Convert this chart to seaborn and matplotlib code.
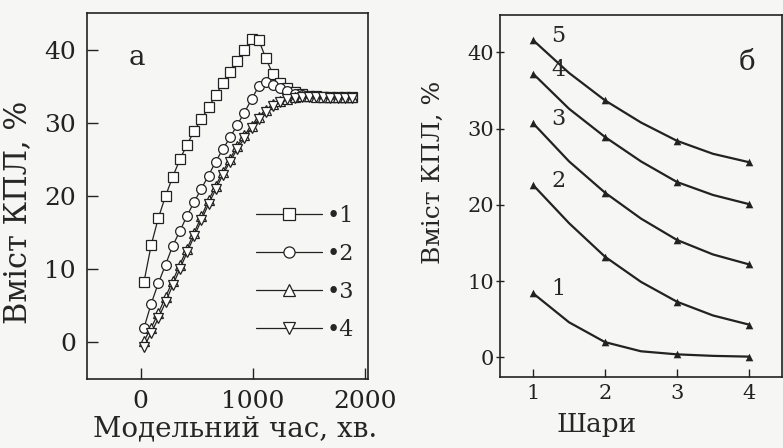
import pandas as pd
import seaborn as sns
import matplotlib.pyplot as plt
from matplotlib.lines import Line2D

# panel a: model time (min) and KPL content (%) for the four series
time_min = [30, 94, 158, 222, 286, 350, 414, 478, 542, 606,
            670, 734, 798, 862, 926, 990, 1054, 1118, 1182, 1246,
            1310, 1374, 1438, 1502, 1566, 1630, 1694, 1758, 1822, 1886]
series_1 = [8.3, 13.3, 17.0, 20.0, 22.6, 25.0, 27.0, 28.9, 30.5, 32.1,
            33.8, 35.4, 36.9, 38.4, 40.0, 41.4, 41.3, 38.8, 36.6, 35.4,
            34.7, 34.2, 33.9, 33.7, 33.6, 33.5, 33.5, 33.5, 33.5, 33.5]
series_2 = [2.0, 5.3, 8.1, 10.6, 13.2, 15.2, 17.3, 19.2, 21.0, 22.8,
            24.7, 26.4, 28.0, 29.7, 31.4, 33.2, 35.0, 35.6, 35.2, 34.7,
            34.3, 34.0, 33.8, 33.7, 33.6, 33.5, 33.5, 33.5, 33.5, 33.5]
series_3 = [0.2, 2.0, 4.0, 6.2, 8.4, 10.6, 12.8, 15.0, 17.2, 19.4,
            21.4, 23.3, 25.1, 26.8, 28.3, 29.6, 30.8, 31.8, 32.5, 33.0,
            33.3, 33.5, 33.6, 33.6, 33.5, 33.5, 33.5, 33.5, 33.5, 33.5]
series_4 = [-0.6, 1.3, 3.3, 5.5, 7.8, 10.0, 12.3, 14.5, 16.7, 18.9,
            20.9, 22.9, 24.7, 26.4, 27.9, 29.3, 30.5, 31.5, 32.3, 32.8,
            33.2, 33.4, 33.5, 33.5, 33.5, 33.5, 33.4, 33.4, 33.4, 33.4]
series_names = ['1', '2', '3', '4']
series_markers = ['s', 'o', '^', 'v']

# panel b: layers and KPL content (%) for curves 1..5
layers = [1, 1.5, 2, 2.5, 3, 3.5, 4]
curve_1 = [8.4, 4.6, 2.0, 0.8, 0.4, 0.2, 0.1]
curve_2 = [22.6, 17.6, 13.2, 9.9, 7.3, 5.5, 4.3]
curve_3 = [30.7, 25.7, 21.6, 18.2, 15.4, 13.5, 12.2]
curve_4 = [37.2, 32.6, 28.9, 25.7, 23.0, 21.3, 20.1]
curve_5 = [41.6, 37.3, 33.7, 30.8, 28.4, 26.7, 25.6]
curve_names = ['1', '2', '3', '4', '5']

df_a = pd.DataFrame({
    't': time_min * 4,
    'v': series_1 + series_2 + series_3 + series_4,
    'series': [n for n in series_names for _ in time_min],
})
curves = [curve_1, curve_2, curve_3, curve_4, curve_5]
df_b = pd.DataFrame({
    'layer': layers * 5,
    'v': [v for c in curves for v in c],
    'curve': [n for n in curve_names for _ in layers],
})
df_b_pts = df_b[df_b['layer'] % 1 == 0]

sns.set_style("ticks")
plt.rcParams['font.family'] = ['DejaVu Serif']

bg = '#f6f6f4'
ink = '#222222'
fig = plt.figure(figsize=(7.83, 4.48), dpi=100, facecolor=bg)
ax_a = fig.add_axes([0.111, 0.154, 0.359, 0.817], facecolor=bg)
ax_b = fig.add_axes([0.6386, 0.158, 0.3601, 0.8085], facecolor=bg)

# ---- panel a
sns.lineplot(data=df_a, x='t', y='v', hue='series', style='series',
             markers=series_markers, dashes=False, palette=[ink] * 4,
             markersize=7, mfc='white', mec=ink, mew=0.9, lw=0.9,
             legend=False, ax=ax_a)
ax_a.set_xlim(-480, 2030)
ax_a.set_ylim(-5, 45)
ax_a.set_xticks([0, 1000, 2000])
ax_a.set_yticks([0, 10, 20, 30, 40])
ax_a.tick_params(direction='in', length=8, width=1, labelsize=18, pad=8,
                 colors=ink)
ax_a.set_xlabel('Модельний час, хв.', fontsize=20)
ax_a.xaxis.set_label_coords(0.527, -0.1)
ax_a.set_ylabel('Вміст КПЛ, %', fontsize=22)
ax_a.yaxis.set_label_coords(-0.19, 0.454)
ax_a.text(-36, 38.9, 'a', fontsize=20, ha='center', va='center')

handles = [Line2D([], [], color=ink, lw=0.9, marker=m, ms=8,
                  mfc='white', mec=ink, mew=0.9) for m in series_markers]
ax_a.legend(handles, ['•' + n for n in series_names], loc='upper left',
            bbox_to_anchor=(0.6, 0.475), frameon=False, handlelength=3.0,
            handletextpad=0.2, labelspacing=0.72, fontsize=16,
            borderpad=0, borderaxespad=0)

# ---- panel b
sns.lineplot(data=df_b, x='layer', y='v', hue='curve', palette=[ink] * 5,
             lw=1.6, legend=False, ax=ax_b)
sns.scatterplot(data=df_b_pts, x='layer', y='v', color=ink, marker='^',
                s=30, linewidth=0, legend=False, ax=ax_b)
for name, c in zip(curve_names, curves):
    ax_b.annotate(name, xy=(layers[0], c[0]), xytext=(13, 3),
                  textcoords='offset points', fontsize=16, ha='left',
                  va='center')
ax_b.text(3.97, 38.7, 'б', fontsize=20, ha='center', va='center')
ax_b.set_xlim(0.54, 4.46)
ax_b.set_ylim(-2.6, 44.9)
ax_b.set_xticks([1, 2, 3, 4])
ax_b.set_yticks([0, 10, 20, 30, 40])
ax_b.tick_params(axis='x', direction='in', length=6, width=1, labelsize=15,
                 pad=5, colors=ink)
ax_b.tick_params(axis='y', direction='inout', length=6, width=1,
                 labelsize=15, pad=1, colors=ink)
ax_b.set_xlabel('Шари', fontsize=19)
ax_b.xaxis.set_label_coords(0.344, -0.095)
ax_b.set_ylabel('Вміст КПЛ, %', fontsize=18)
ax_b.yaxis.set_label_coords(-0.195, 0.566)

for ax in (ax_a, ax_b):
    for sp in ax.spines.values():
        sp.set_linewidth(1.2)
        sp.set_color(ink)

fig.savefig('out.png', dpi=100, facecolor=bg)
